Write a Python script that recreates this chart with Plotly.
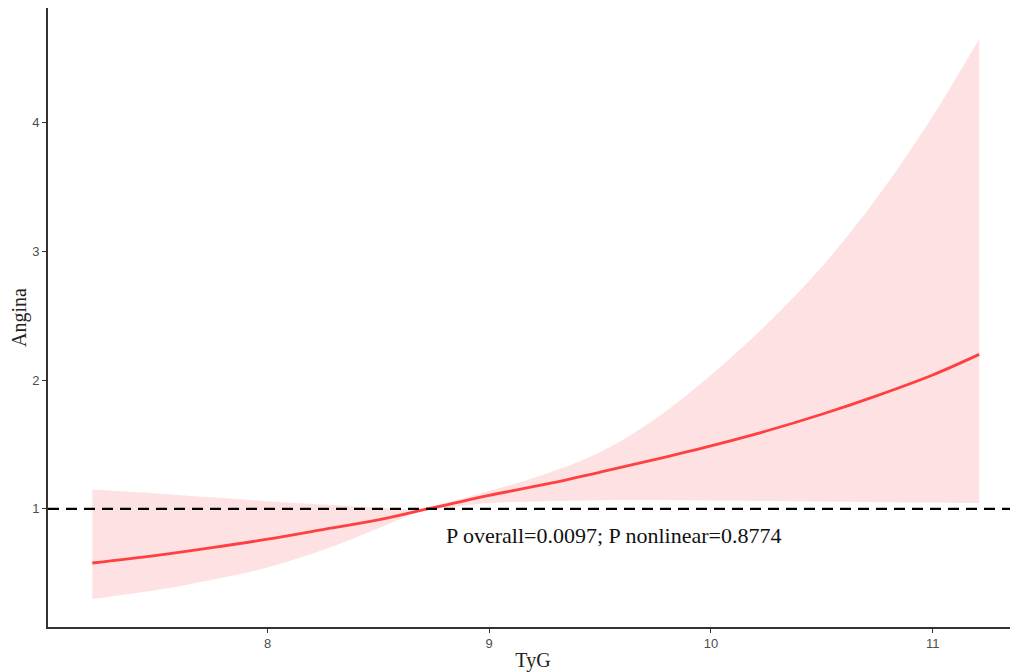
import plotly.graph_objects as go

# Data
tyg = [7.21, 7.5, 7.75, 8.0, 8.25, 8.5, 8.72, 8.75, 9.0, 9.25, 9.5, 9.75, 10.0, 10.25, 10.5, 10.75, 11.0, 11.21]
or_est = [0.58, 0.64, 0.70, 0.765, 0.84, 0.915, 1.0, 1.01, 1.105, 1.19, 1.285, 1.385, 1.49, 1.605, 1.735, 1.88, 2.04, 2.20]
ci_upper = [1.15, 1.12, 1.09, 1.06, 1.035, 1.01, 1.0, 1.02, 1.14, 1.27, 1.44, 1.70, 2.04, 2.43, 2.88, 3.42, 4.05, 4.65]
ci_lower = [0.30, 0.37, 0.45, 0.545, 0.68, 0.85, 1.0, 1.0, 1.045, 1.06, 1.068, 1.07, 1.066, 1.062, 1.057, 1.052, 1.049, 1.046]
x_ticks = [8, 9, 10, 11]
y_ticks = [1, 2, 3, 4]
ref_value = 1
note = "P overall=0.0097; P nonlinear=0.8774"

fill_color = "#FEE2E3"
line_color = "#FF4040"

fig = go.Figure()
fig.add_trace(go.Scatter(x=tyg, y=ci_lower, mode="lines", line=dict(width=0, shape="spline", color=fill_color),
                         hoverinfo="skip", showlegend=False))
fig.add_trace(go.Scatter(x=tyg, y=ci_upper, mode="lines", line=dict(width=0, shape="spline", color=fill_color),
                         fill="tonexty", fillcolor=fill_color, hoverinfo="skip", showlegend=False))
fig.add_trace(go.Scatter(x=tyg, y=or_est, mode="lines", line=dict(width=2.8, shape="spline", color=line_color),
                         showlegend=False))

fig.add_shape(type="line", xref="paper", yref="y", x0=0, x1=1, y0=ref_value, y1=ref_value,
              line=dict(color="black", width=2.2, dash="11px,7px"))

fig.add_annotation(x=9.56, y=0.79, text=note, showarrow=False,
                   font=dict(family="Liberation Serif", size=22, color="#111111"))

fig.update_layout(
    width=1010, height=664,
    margin=dict(l=40, r=0, t=0, b=45),
    plot_bgcolor="white", paper_bgcolor="white",
    xaxis=dict(range=[7.01, 11.385], tickvals=x_ticks, showgrid=False, zeroline=False,
               showline=True, linecolor="#333333", linewidth=1.6, automargin=False,
               ticks="outside", ticklen=4, tickcolor="#333333",
               tickfont=dict(family="Liberation Sans", size=13, color="#4D4D4D"),
               title=dict(text="TyG", font=dict(family="Liberation Serif", size=20, color="#222222"), standoff=4)),
    yaxis=dict(range=[0.083, 4.89], tickvals=y_ticks, showgrid=False, zeroline=False,
               showline=True, linecolor="#333333", linewidth=1.6, automargin=False,
               ticks="outside", ticklen=4, tickcolor="#333333",
               tickfont=dict(family="Liberation Sans", size=13, color="#4D4D4D"),
               title=dict(text="Angina", font=dict(family="Liberation Serif", size=20, color="#222222"), standoff=4)),
)

fig.write_html("out.html")
